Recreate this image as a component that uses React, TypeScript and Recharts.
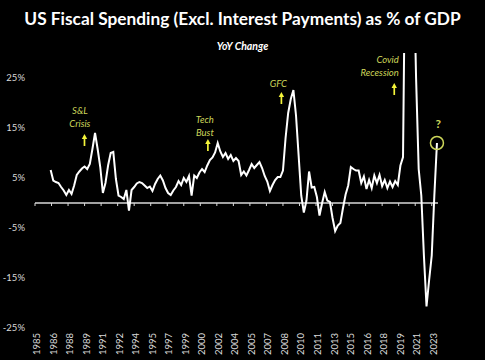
import React from "react";
import { LineChart, Line, XAxis, YAxis, ReferenceLine, ReferenceDot } from "recharts";

const TITLE = "US Fiscal Spending (Excl. Interest Payments) as % of GDP";
const SUBTITLE = "YoY Change";

// Quarterly YoY change (%), first observation 1986 Q3
const START_YEAR = 1986.5;
const STEP_YEARS = 0.25;
const YOY_VALUES = [
  6.6, 4.5, 4.2, 4.0, 3.2, 2.5, 1.6, 2.6, 1.8, 3.5,
  5.6, 6.3, 6.9, 7.3, 6.8, 7.8, 10.8, 14, 10.8, 7.2,
  2.0, 4.0, 7.5, 10, 10.2, 4.8, 1.5, 1.2, 0.8, 2.6,
  -1.5, 2.6, 3.2, 3.9, 4.2, 4.0, 3.5, 3.0, 3.3, 2.4,
  3.8, 4.8, 5.5, 4.5, 3.0, 2.0, 1.6, 2.5, 3.2, 4.4,
  3.6, 5.0, 4.2, 5.4, 1.5, 5.5, 5.0, 6.1, 6.8, 6.2,
  7.5, 8.6, 9.1, 10.1, 12.0, 10.3, 9.2, 10.0, 8.8, 9.6,
  8.4, 9.0, 8.4, 5.6, 6.3, 5.5, 6.6, 7.8, 7.0, 7.6,
  8.2, 7.0, 5.4, 4.3, 2.4, 3.6, 4.6, 5.2, 5.2, 6.5,
  13, 18, 20.8, 22.6, 17.5, 9.5, 1.5, -1.9, 0.5, 6.3,
  3.1, 3.2, 1.2, -2.5, 0, 2.2, 0.5, 0.2, -3, -5.6,
  -4.5, -4.0, -1.0, 1.7, 3.5, 7.2, 6.8, 6.5, 6.5, 4.0,
  5.3, 2.8, 4.6, 3.0, 5.5, 4.0, 5.6, 3.4, 4.6, 3.0,
  4.3, 3.2, 4.4, 3.6, 7.5, 9.2, 60, 75, 70, 50,
  25, 6.8, 1.5, -10.5, -20.7, -15.4, -10.5, 1.5, 12,
];

const X_TICK_LABELS = [
  "1985", "1986", "1988", "1989", "1991", "1992", "1994", "1995", "1997",
  "1999", "2000", "2002", "2004", "2005", "2007", "2008", "2010", "2011",
  "2013", "2015", "2016", "2018", "2019", "2021", "2023",
];
const Y_TICKS = [-25, -15, -5, 5, 15, 25];

const AXIS_START = 1985;
const AXIS_END = 2023.6;
const TICK_STEP = (2023 - 1985) / (X_TICK_LABELS.length - 1);
const X_TICKS = X_TICK_LABELS.map((_, i) => AXIS_START + i * TICK_STEP);

const ANNOTATIONS = [
  { lines: ["S&L", "Crisis"], x: 1989.3, y: 17.8, anchor: "middle", arrowX: 1989.74, arrowY: 13.8 },
  { lines: ["Tech", "Bust"], x: 2001.27, y: 16.0, anchor: "middle", arrowX: 2001.56, arrowY: 12.8 },
  { lines: ["GFC"], x: 2008.31, y: 23.2, anchor: "middle", arrowX: 2008.6, arrowY: 22.2 },
  { lines: ["Covid", "Recession"], x: 2019.85, y: 28, anchor: "end", arrowX: 2019.41, arrowY: 24.0 },
];
const QUESTION = { text: "?", x: 2023.63, y: 15 };

const data = YOY_VALUES.map((v, i) => ({ year: START_YEAR + i * STEP_YEARS, value: v }));
const last = data[data.length - 1];

const FONT = "Lato, 'Open Sans', sans-serif";
const ANNOT_COLOR = "#cdd65a";
const ARROW_COLOR = "#f4f43a";
const TICK_COLOR = "#d9d9d9";

const XTick = (props: any) => {
  const { x, y, payload } = props;
  const i = Math.round((payload.value - AXIS_START) / TICK_STEP);
  const tx = x + 1.5;
  return (
    <text
      x={tx}
      y={y}
      transform={`rotate(-90 ${tx} ${y})`}
      textAnchor="end"
      dominantBaseline="central"
      fill={TICK_COLOR}
      fontSize={9.5}
      fontFamily={FONT}
    >
      {X_TICK_LABELS[i]}
    </text>
  );
};

const AnnotationText = (props: any) => {
  const { cx, cy, lines, anchor } = props;
  if (cx == null || cy == null) return null;
  return (
    <text
      x={cx}
      y={cy}
      textAnchor={anchor}
      fill={ANNOT_COLOR}
      fontStyle="italic"
      fontSize={9.5}
      fontFamily={FONT}
    >
      {lines.map((l: string, i: number) => (
        <tspan key={i} x={cx} dy={i === 0 ? 0 : 13}>
          {l}
        </tspan>
      ))}
    </text>
  );
};

const Arrow = (props: any) => {
  const { cx, cy } = props;
  if (cx == null || cy == null) return null;
  return (
    <g>
      <line x1={cx} y1={cy + 3} x2={cx} y2={cy + 12} stroke={ARROW_COLOR} strokeWidth={1.7} />
      <polygon points={`${cx - 2.7},${cy + 5} ${cx + 2.7},${cy + 5} ${cx},${cy}`} fill={ARROW_COLOR} />
    </g>
  );
};

const QuestionMark = (props: any) => {
  const { cx, cy } = props;
  if (cx == null || cy == null) return null;
  return (
    <text x={cx} y={cy} textAnchor="middle" fill={ANNOT_COLOR} fontWeight="bold" fontSize={12} fontFamily={FONT}>
      {QUESTION.text}
    </text>
  );
};

export default function App() {
  return (
    <div
      style={{
        position: "absolute",
        left: 0,
        top: 0,
        width: 485,
        height: 360,
        background: "#000",
        fontFamily: FONT,
        overflow: "hidden",
      }}
    >
      <div
        style={{
          position: "absolute",
          top: 10,
          left: 0,
          width: 485,
          textAlign: "center",
          color: "#fff",
          fontWeight: "bold",
          fontSize: 17.3,
          lineHeight: "17px",
          whiteSpace: "nowrap",
        }}
      >
        {TITLE}
      </div>
      <div
        style={{
          position: "absolute",
          top: 41,
          left: 0,
          width: 485,
          textAlign: "center",
          color: "#fff",
          fontWeight: "bold",
          fontStyle: "italic",
          fontSize: 10.5,
          lineHeight: "10.5px",
        }}
      >
        {SUBTITLE}
      </div>
      <LineChart
        width={485}
        height={360}
        data={data}
        margin={{ top: 53, right: 47, bottom: 2, left: 0 }}
        style={{ position: "absolute", left: 0, top: 0 }}
      >
        <XAxis
          dataKey="year"
          type="number"
          domain={[AXIS_START, AXIS_END]}
          ticks={X_TICKS}
          interval={0}
          tick={<XTick />}
          axisLine={false}
          tickLine={false}
          tickSize={5}
          tickMargin={0}
          height={30}
          allowDataOverflow
        />
        <YAxis
          type="number"
          domain={[-25, 30]}
          ticks={Y_TICKS}
          interval={0}
          allowDataOverflow
          axisLine={false}
          tickLine={false}
          tickMargin={4}
          width={35}
          tickFormatter={(v: number) => `${v}%`}
          tick={{ fill: TICK_COLOR, fontSize: 9.5, fontFamily: FONT }}
        />
        <ReferenceLine y={0} stroke="#d9d9d9" strokeWidth={1.5} />
        {X_TICKS.map((t, i) => (
          <ReferenceLine
            key={`zt${i}`}
            segment={[
              { x: t, y: 0 },
              { x: t, y: -0.6 },
            ]}
            stroke="#d9d9d9"
            strokeWidth={1}
            ifOverflow="visible"
          />
        ))}
        <Line
          type="linear"
          dataKey="value"
          stroke="#ffffff"
          strokeWidth={2}
          dot={false}
          activeDot={false}
          isAnimationActive={false}
        />
        {ANNOTATIONS.map((a, i) => (
          <ReferenceDot
            key={`at${i}`}
            x={a.x}
            y={a.y}
            r={0}
            ifOverflow="visible"
            shape={(p: any) => <AnnotationText {...p} lines={a.lines} anchor={a.anchor} />}
          />
        ))}
        {ANNOTATIONS.map((a, i) => (
          <ReferenceDot
            key={`ar${i}`}
            x={a.arrowX}
            y={a.arrowY}
            r={0}
            ifOverflow="visible"
            shape={(p: any) => <Arrow {...p} />}
          />
        ))}
        <ReferenceDot
          x={QUESTION.x}
          y={QUESTION.y}
          r={0}
          ifOverflow="visible"
          shape={(p: any) => <QuestionMark {...p} />}
        />
        <ReferenceDot
          x={last.year}
          y={last.value}
          r={6.5}
          fill="none"
          stroke={ANNOT_COLOR}
          strokeWidth={1.5}
          ifOverflow="visible"
        />
      </LineChart>
    </div>
  );
}
